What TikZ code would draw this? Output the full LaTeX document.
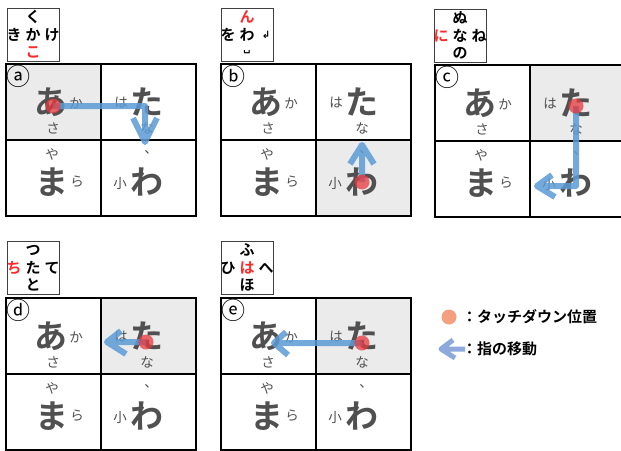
\documentclass[tikz,border=0pt]{standalone}
\usepackage{fontspec}
\setmainfont{Noto Sans CJK JP}[BoldFont={Noto Sans CJK JP Bold}]
\newfontfamily\djv{DejaVu Sans}
\definecolor{chargray}{HTML}{505050}
\definecolor{cellgray}{HTML}{EBEBEB}
\definecolor{arrowblue}{HTML}{5B9BD5}
\definecolor{legblue}{HTML}{8EA9DB}
\definecolor{touchred}{HTML}{E8383D}
\definecolor{legred}{HTML}{F4A07E}
\definecolor{popred}{HTML}{FF2A2A}
\tikzset{
  big/.style={font=\bfseries\fontsize{33}{33}\selectfont, text=chargray, inner sep=0pt},
  small/.style={font=\fontsize{13.5}{13.5}\selectfont, text=chargray, inner sep=0pt},
  pop/.style={font=\bfseries\fontsize{15}{15}\selectfont, inner sep=0pt},
  lab/.style={font=\fontsize{24}{24}\selectfont, inner sep=0pt},
  gridline/.style={line width=1.6pt, draw=black},
  popbox/.style={draw=black!75, line width=0.8pt},
  move/.style={draw=arrowblue, line width=6pt, draw opacity=0.85, line join=round},
  touch/.style={fill=touchred, fill opacity=0.75},
  legtext/.style={font=\bfseries\fontsize{15}{15}\selectfont, anchor=west, inner sep=0pt},
}
% #1 name, #2 x, #3 y, #4 gray cell corner, #5 label
\newcommand\kbpanel[5]{%
\begin{scope}[shift={(#2,#3)}]
  \fill[cellgray] #4 rectangle ++(95,76);
  \node[big]   (#1-a)   at (45,38)  {あ};
  \node[small] (#1-ka)  at (70,39)  {か};
  \node[small] (#1-sa)  at (47,64)  {さ};
  \node[small] (#1-ha)  at (115,39) {は};
  \node[big]   (#1-ta)  at (141,38) {た};
  \node[small] (#1-na)  at (141,64) {な};
  \node[small] (#1-ya)  at (46,90)  {や};
  \node[big]   (#1-ma)  at (46,118) {ま};
  \node[small] (#1-ra)  at (71,118) {ら};
  \node[small] (#1-ten) at (145,88) {、};
  \node[small] (#1-ko)  at (114,119) {小};
  \node[big]   (#1-wa)  at (141,118) {わ};
  \draw[gridline] (0,0) rectangle (190,152) (95,0) -- (95,152) (0,76) -- (190,76);
  \node[lab] (#1-lab) at (12,12) {#5};
\end{scope}}
% #1 name, #2 x, #3 y, #4 top, #5 left, #6 mid, #7 right, #8 bottom
\newcommand\popbox[8]{%
\begin{scope}[shift={(#2,#3)}]
  \draw[popbox] (0,0) rectangle (52,53);
  \node[pop] (#1-t) at (26,9)  {#4};
  \node[pop] (#1-l) at (7,27)  {#5};
  \node[pop] (#1-m) at (26,27) {#6};
  \node[pop] (#1-r) at (45,27) {#7};
  \node[pop] (#1-b) at (26,44) {#8};
\end{scope}}
\begin{document}
\begin{tikzpicture}[x=1pt,y=-1pt]
\useasboundingbox (0,0) rectangle (621,450);
\fill[white] (0,0) rectangle (621,450);

% popups
\popbox{pa}{7}{8}{く}{き}{か}{け}{\textcolor{popred}{こ}}
\popbox{pb}{221}{8}{\textcolor{popred}{ん}}{を}{わ}{{\djv\fontsize{10}{10}\selectfont ↲}}{{\djv\fontsize{10}{10}\selectfont ␣}}
\popbox{pc}{434}{9}{ぬ}{\textcolor{popred}{に}}{な}{ね}{の}
\popbox{pd}{7}{241}{つ}{\textcolor{popred}{ち}}{た}{て}{と}
\popbox{pe}{221}{241}{ふ}{ひ}{\textcolor{popred}{は}}{へ}{ほ}

% panels
\kbpanel{ka}{6}{64}{(0,0)}{ⓐ}
\kbpanel{kb}{221}{64}{(95,76)}{ⓑ}
\kbpanel{kc}{435}{65}{(95,0)}{ⓒ}
\kbpanel{kd}{6}{298}{(95,0)}{ⓓ}
\kbpanel{ke}{221}{298}{(95,0)}{ⓔ}

% panel a: touch at あ, right then down
\coordinate (a0) at (53,106);
\coordinate (a1) at (145,106);
\coordinate (a2) at (145,142);
\coordinate (a3) at (133,118);
\coordinate (a4) at (157,118);
\draw[move] (a0) -- (a1) -- (a2) (a3) -- (a2) -- (a4);
\fill[touch] (a0) circle (7.5);

% panel b: touch at わ, up
\coordinate (b0) at (362,182);
\coordinate (b1) at (362,145);
\coordinate (b2) at (350,164);
\coordinate (b3) at (374,164);
\draw[move] (b0) -- (b1) (b2) -- (b1) -- (b3);
\fill[touch] (b0) circle (7.5);

% panel c: touch at た, down then left
\coordinate (c0) at (576,106);
\coordinate (c1) at (576,186);
\coordinate (c2) at (537,186);
\coordinate (c3) at (552,175);
\coordinate (c4) at (555,197);
\draw[move] (c0) -- (c1) -- (c2) (c3) -- (c2) -- (c4);
\fill[touch] (c0) circle (7.5);

% panel d: touch at た, short left
\coordinate (d0) at (146,342);
\coordinate (d1) at (107,342);
\coordinate (d2) at (121,331);
\coordinate (d3) at (126,354);
\draw[move] (d0) -- (d1) (d2) -- (d1) -- (d3);
\fill[touch] (d0) circle (7.5);

% panel e: touch at た, long left
\coordinate (e0) at (362,343);
\coordinate (e1) at (274,343);
\coordinate (e2) at (286,332);
\coordinate (e3) at (288,355);
\draw[move] (e0) -- (e1) (e2) -- (e1) -- (e3);
\fill[touch] (e0) circle (7.5);

% legend
\fill[legred] (449,317) circle (7.5);
\node[legtext] (l1) at (462,317) {：タッチダウン位置};
\coordinate (lt) at (441,349);
\coordinate (lh) at (465,349);
\coordinate (lu) at (453,340);
\coordinate (ld) at (455,358);
\draw[draw=legblue, line width=5pt, line join=round] (lh) -- (lt) (lu) -- (lt) -- (ld);
\node[legtext] (l2) at (462,349) {：指の移動};
\end{tikzpicture}
\end{document}
